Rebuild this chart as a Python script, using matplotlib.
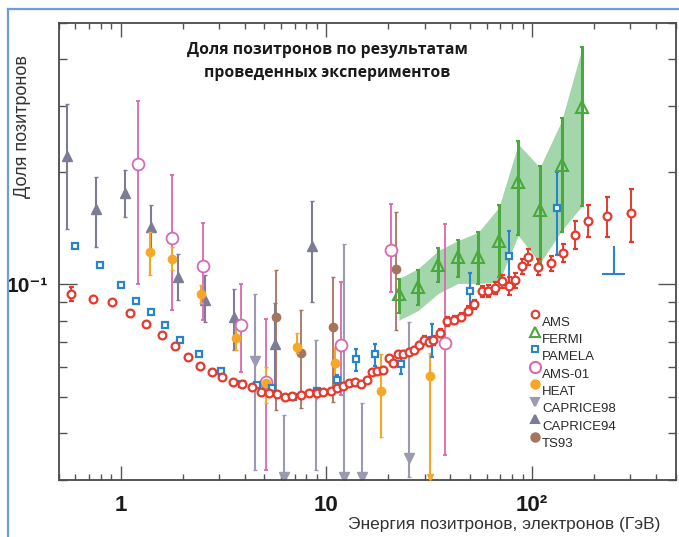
import matplotlib
matplotlib.use("Agg")
import numpy as np
from matplotlib import pyplot as plt
from matplotlib.ticker import FixedLocator, NullFormatter, LogLocator
from matplotlib.lines import Line2D

W, H = 679, 537
SANS = ['Liberation Sans', 'DejaVu Sans']
plt.rcParams['font.family'] = SANS

# --- data (energy in GeV, positron fraction) ---
ams_e = [0.576, 0.737, 0.911, 1.11, 1.333, 1.582, 1.836, 2.123, 2.44, 2.77, 3.12, 3.51,
         3.90, 4.36, 4.79, 5.26, 5.77, 6.26, 6.83, 7.49, 8.22, 8.96, 9.66, 10.48, 11.30,
         12.08, 12.86, 13.71, 14.66, 15.68, 16.58, 17.68, 18.86, 20.06, 21.14, 22.18,
         23.53, 25.17, 26.62, 28.12, 29.67, 31.49, 33.07, 35.6, 38.5, 41.5, 45.0, 48.5,
         52.4, 56.8, 61.2, 65.8, 71.4, 77.1, 82.8, 89.1, 95.8, 107.1, 122.9, 141.0,
         161.3, 187.4, 231.7, 303.0]
ams_frac = [0.0944, 0.0916, 0.0897, 0.0841, 0.0782, 0.0734, 0.0685, 0.0640, 0.0604,
            0.0582, 0.0566, 0.0549, 0.0541, 0.0532, 0.0516, 0.0511, 0.0508, 0.0501,
            0.0503, 0.0505, 0.0511, 0.0514, 0.0516, 0.0519, 0.0527, 0.0535, 0.0545,
            0.0548, 0.0543, 0.0555, 0.0582, 0.0586, 0.0590, 0.0634, 0.0616, 0.0651,
            0.0652, 0.0658, 0.0668, 0.0689, 0.0710, 0.0702, 0.0709, 0.0742, 0.0797,
            0.0803, 0.0818, 0.0850, 0.0886, 0.0958, 0.0960, 0.0980, 0.1019, 0.0991,
            0.1025, 0.1117, 0.1183, 0.1115, 0.1138, 0.1212, 0.1359, 0.1481, 0.1528,
            0.1549]
ams_err = [0.0041, 0.0006, 0.0006, 0.0005, 0.0005, 0.0005, 0.0005, 0.0005, 0.0005,
           0.0005, 0.0005, 0.0005, 0.0005, 0.0005, 0.0005, 0.0005, 0.0005, 0.0005,
           0.0005, 0.0005, 0.0006, 0.0006, 0.0006, 0.0006, 0.0006, 0.0006, 0.0007,
           0.0007, 0.0007, 0.0008, 0.0009, 0.0009, 0.0010, 0.0010, 0.0010, 0.0011,
           0.0011, 0.0012, 0.0012, 0.0013, 0.0018, 0.0018, 0.0019, 0.0020, 0.0021,
           0.0021, 0.0022, 0.0023, 0.0025, 0.0035, 0.0036, 0.0036, 0.0038, 0.0055,
           0.0047, 0.0051, 0.0058, 0.0055, 0.0052, 0.0067, 0.0117, 0.0146, 0.0188,
           0.0247]

fermi_e = [22.5, 27.97, 34.98, 43.55, 54.7, 68.9, 85.6, 109.0, 139.0, 175.2]
fermi_frac = [0.0940, 0.0984, 0.1128, 0.1183, 0.1183, 0.1304, 0.1874, 0.1585, 0.2089, 0.2983]
fermi_lo = [0.0837, 0.0879, 0.1014, 0.1046, 0.1004, 0.1046, 0.1359, 0.1103, 0.1379, 0.1624]
fermi_hi = [0.1037, 0.1090, 0.1250, 0.1318, 0.1379, 0.1631, 0.2411, 0.2076, 0.2783, 0.4311]
fermi_band_lo = [0.0802, 0.0852, 0.0946, 0.1006, 0.1006, 0.1014, 0.1351, 0.1138, 0.1393, 0.1624]
fermi_band_hi = [0.1037, 0.1103, 0.1232, 0.1310, 0.1379, 0.1607, 0.2373, 0.2055, 0.2737, 0.4311]

pamela_e = [0.598, 0.793, 1.0, 1.19, 1.40, 1.64, 1.94, 2.40, 3.06, 3.87, 4.58, 5.46,
            6.91, 8.96, 11.30, 13.87, 17.19, 22.94, 32.7, 49.8, 77.1, 131.4]
pamela_frac = [0.127, 0.1128, 0.0997, 0.0905, 0.0844, 0.0777, 0.0712, 0.0653, 0.0586,
               0.0543, 0.0540, 0.0527, 0.0501, 0.0518, 0.0555, 0.0630, 0.0650, 0.0611,
               0.0712, 0.0958, 0.1191, 0.1598]
pamela_err = [0.0005, 0.0005, 0.0005, 0.0005, 0.0005, 0.0005, 0.0005, 0.0005, 0.0005,
              0.0005, 0.0005, 0.0005, 0.0008, 0.0010, 0.0017, 0.0044, 0.0045, 0.0034,
              0.0073, 0.0114, 0.0197, 0.0400]
# PAMELA highest bin, drawn as a limit
pamela_lim_e = [249.0]
pamela_lim_elo = [219.0]
pamela_lim_ehi = [284.0]
pamela_lim_frac = [0.1068]
pamela_lim_top = [0.127]

ams01_e = [1.214, 1.77, 2.52, 3.83, 5.07, 11.72, 20.7, 37.9]
ams01_frac = [0.2098, 0.1329, 0.112, 0.0777, 0.0549, 0.0688, 0.1237, 0.0698]
ams01_lo = [0.100, 0.0853, 0.0802, 0.0582, 0.0319, 0.0506, 0.0952, 0.035]
ams01_hi = [0.3095, 0.196, 0.1457, 0.100, 0.081, 0.1014, 0.1641, 0.1451]

heat_e = [1.383, 1.77, 2.46, 3.64, 5.07, 7.2, 11.0, 18.5, 31.8]
heat_frac = [0.1219, 0.1166, 0.0944, 0.072, 0.0545, 0.0679, 0.0617, 0.052, 0.0569]
heat_lo = [0.1057, 0.109, 0.089, 0.0667, 0.0482, 0.0655, 0.0532, 0.039, 0.0303]
heat_hi = [0.1379, 0.1257, 0.0994, 0.0769, 0.0603, 0.074, 0.0681, 0.0651, 0.0655]
heat_arrow_e = [31.8]
heat_arrow_frac = [0.0306]

c98_e = [4.50, 6.19, 8.86, 12.16, 14.94, 25.2]
c98_frac = [0.0625, 0.0306, 0.0506, 0.0306, 0.0306, 0.0343]
c98_lo = [0.0319, 0.0306, 0.0319, 0.0306, 0.0306, 0.0306]
c98_hi = [0.0942, 0.0447, 0.0709, 0.1284, 0.0481, 0.0793]

c94_e = [0.547, 0.759, 1.046, 1.41, 1.907, 2.56, 3.55, 5.63, 8.54]
c94_frac = [0.2208, 0.1592, 0.1752, 0.1421, 0.1046, 0.0909, 0.0818, 0.0692, 0.127]
c94_lo = [0.1408, 0.1257, 0.1512, 0.1207, 0.0906, 0.0793, 0.0667, 0.0521, 0.0897]
c94_hi = [0.3033, 0.1932, 0.2022, 0.1627, 0.1207, 0.1057, 0.0974, 0.0892, 0.1675]

ts93_e = [5.70, 7.54, 10.80, 21.7]
ts93_frac = [0.0818, 0.0657, 0.0769, 0.1101]
ts93_lo = [0.0461, 0.0466, 0.0485, 0.0754]
ts93_hi = [0.109, 0.0852, 0.105, 0.1559]

x_ticks = [1, 10, 100]
x_ticklabels = ['1', '10', '10²']
y_ticks = [0.1]
y_ticklabels = ['10⁻¹']

C_AMS = '#e8382c'
C_FERMI = '#4aa83c'
C_BAND = '#93d09c'
C_PAMELA = '#2a84cc'
C_AMS01 = '#d968b0'
C_HEAT = '#f5a828'
C_C98 = '#9a9ab0'
C_C94 = '#7c7c98'
C_TS93 = '#a6735e'


def asym(frac, lo, hi):
    f = np.array(frac)
    return [f - np.array(lo), np.array(hi) - f]


fig = plt.figure(figsize=(W / 100, H / 100), dpi=100)
ax = fig.add_axes([58.7 / W, 1 - 480 / H, (676 - 58.7) / W, (480 - 23) / H])

# blue frame around the picture
fig.add_artist(Line2D([8 / W, 8 / W], [0, 1 - 9 / H], color='#6d9fd6', lw=1.6,
                      transform=fig.transFigure))
fig.add_artist(Line2D([8 / W, 1], [1 - 9 / H, 1 - 9 / H], color='#6d9fd6', lw=1.6,
                      transform=fig.transFigure))

ax.fill_between(fermi_e, fermi_band_lo, fermi_band_hi, color=C_BAND, alpha=0.85,
                lw=0, zorder=1)

ax.errorbar(ts93_e, ts93_frac, yerr=asym(ts93_frac, ts93_lo, ts93_hi), fmt='o',
            ms=6, color=C_TS93, elinewidth=1.3, capsize=1.5, zorder=2)
ax.errorbar(c94_e, c94_frac, yerr=asym(c94_frac, c94_lo, c94_hi), fmt='^',
            ms=7, color=C_C94, elinewidth=1.5, capsize=1.5, zorder=2)
ax.errorbar(c98_e, c98_frac, yerr=asym(c98_frac, c98_lo, c98_hi), fmt='v',
            ms=7, color=C_C98, elinewidth=1.5, capsize=1.5, zorder=2)
ax.errorbar(ams01_e, ams01_frac, yerr=asym(ams01_frac, ams01_lo, ams01_hi), fmt='o',
            ms=8.5, mfc='white', mec=C_AMS01, mew=1.3, ecolor=C_AMS01,
            elinewidth=1.3, capsize=1.5, zorder=3)
ax.errorbar(heat_e, heat_frac, yerr=asym(heat_frac, heat_lo, heat_hi), fmt='o',
            ms=6, color=C_HEAT, elinewidth=1.5, capsize=1.5, zorder=3)
ax.plot(heat_arrow_e, heat_arrow_frac, 'v', ms=5, color=C_HEAT, zorder=3)

ax.errorbar(fermi_e, fermi_frac, yerr=asym(fermi_frac, fermi_lo, fermi_hi), fmt='^',
            ms=8, mfc='none', mec=C_FERMI, mew=1.5, ecolor=C_FERMI,
            elinewidth=2.2, capsize=1.5, zorder=4)
ax.errorbar(pamela_e, pamela_frac, yerr=pamela_err, fmt='s', ms=5, mfc='white',
            mec=C_PAMELA, mew=1.6, ecolor=C_PAMELA, elinewidth=1.5, capsize=1.5,
            zorder=4)
lim_xerr = [np.array(pamela_lim_e) - np.array(pamela_lim_elo),
            np.array(pamela_lim_ehi) - np.array(pamela_lim_e)]
lim_yerr = [np.zeros(1), np.array(pamela_lim_top) - np.array(pamela_lim_frac)]
ax.errorbar(pamela_lim_e, pamela_lim_frac, xerr=lim_xerr, yerr=lim_yerr, fmt='none',
            ecolor=C_PAMELA, elinewidth=1.5, capsize=0, zorder=4)

ax.errorbar(ams_e, ams_frac, yerr=ams_err, fmt='o', ms=5.6, mfc='white', mec=C_AMS,
            mew=1.6, ecolor=C_AMS, elinewidth=1.4, capsize=1.8, capthick=1.4,
            zorder=5)

ax.set_xscale('log')
ax.set_yscale('log')
ax.set_xlim(0.5, 500)
ax.set_ylim(0.03, 0.5)

ax.xaxis.set_major_locator(FixedLocator(x_ticks))
ax.set_xticklabels(x_ticklabels)
ax.xaxis.set_minor_locator(LogLocator(base=10, subs=np.arange(2, 10)))
ax.xaxis.set_minor_formatter(NullFormatter())
ax.yaxis.set_major_locator(FixedLocator(y_ticks))
ax.set_yticklabels(y_ticklabels)
ax.yaxis.set_minor_locator(LogLocator(base=10, subs=np.arange(2, 10)))
ax.yaxis.set_minor_formatter(NullFormatter())

for s in ax.spines.values():
    s.set_color('#4a4a4a')
    s.set_linewidth(1.3)
ax.tick_params(which='both', direction='in', top=True, right=True, color='#555555',
               width=1.0)
ax.tick_params(axis='x', which='major', length=10, pad=11)
ax.tick_params(axis='x', which='minor', length=4)
ax.tick_params(axis='y', which='major', length=13, pad=8)
ax.tick_params(axis='y', which='minor', length=6)
for lab in ax.get_xticklabels():
    lab.set_fontsize(16)
    lab.set_fontweight('bold')
    lab.set_color('#1a1a1a')
for lab in ax.get_yticklabels():
    lab.set_fontsize(15)
    lab.set_fontweight('bold')
    lab.set_color('#1a1a1a')

fig.text(327 / W, 1 - 50 / H, 'Доля позитронов по результатам', ha='center',
         va='center', fontsize=11.3, fontweight='bold', color='#1a1a1a',
         family=['Open Sans', 'DejaVu Sans'])
fig.text(327 / W, 1 - 73 / H, 'проведенных экспериментов', ha='center',
         va='center', fontsize=11.3, fontweight='bold', color='#1a1a1a',
         family=['Open Sans', 'DejaVu Sans'])
fig.text(23 / W, 1 - 126 / H, 'Доля позитронов', rotation=90, ha='center',
         va='center', fontsize=13, color='#333333')
fig.text(660 / W, 1 - 524 / H, 'Энергия позитронов, электронов (ГэВ)', ha='right',
         va='center', fontsize=12.5, color='#333333')

# legend, drawn by hand: markers sit up-left of their labels
legend = [('AMS', 'o', C_AMS, 'white', 5.5), ('FERMI', '^', C_FERMI, 'white', 7),
          ('PAMELA', 's', C_PAMELA, 'white', 5), ('AMS-01', 'o', C_AMS01, 'white', 8),
          ('HEAT', 'o', C_HEAT, C_HEAT, 6), ('CAPRICE98', 'v', C_C98, C_C98, 6),
          ('CAPRICE94', '^', C_C94, C_C94, 6), ('TS93', 'o', C_TS93, C_TS93, 6)]
for i, (name, mk, ec, fc, ms) in enumerate(legend):
    my = 314 + 17.5 * i
    ty = 322.5 + 17.4 * i
    fig.add_artist(Line2D([535 / W], [1 - my / H], marker=mk, ms=ms, mec=ec, mfc=fc,
                          mew=1.5, ls='none', transform=fig.transFigure))
    fig.text(542 / W, 1 - ty / H, name, ha='left', va='center', fontsize=9.5,
             color='#2a2a2a')

plt.savefig('out.png', dpi=100)
